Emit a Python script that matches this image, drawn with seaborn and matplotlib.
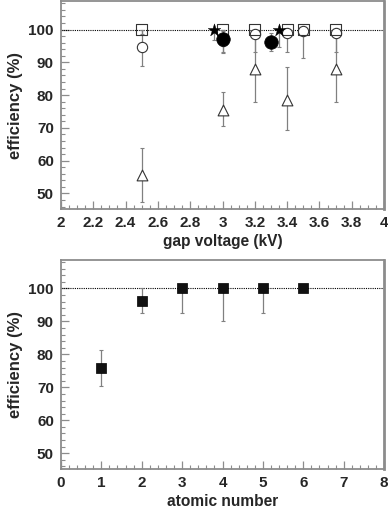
import matplotlib
matplotlib.use("Agg")
import matplotlib.pyplot as plt
import seaborn as sns
import pandas as pd
import numpy as np
from matplotlib.ticker import MultipleLocator

sns.set_theme(style="white")
plt.rcParams['font.family'] = ['Liberation Sans', 'DejaVu Sans']

# ---- top panel data (gap voltage scan) ----
sq_x = [2.5, 3.0, 3.2, 3.4, 3.5, 3.7]
sq_y = [100, 100, 100, 100, 100, 100]
sq_lo = [1.5, 0.5, 0.5, 0.5, 0.5, 0.5]
sq_hi = [0, 0, 0, 0, 0, 0]

oc_x = [2.5, 3.0, 3.2, 3.4, 3.5, 3.7]
oc_y = [94.7, 96.5, 98.5, 98.8, 99.5, 99.0]
oc_lo = [5.9, 3.5, 5.5, 5.8, 8.2, 6.0]
oc_hi = [5.3, 3.5, 1.5, 1.2, 0.5, 1.0]

tr_x = [2.5, 3.0, 3.2, 3.4, 3.7]
tr_y = [55.5, 75.5, 88.0, 78.5, 88.0]
tr_lo = [8.2, 5.0, 10.0, 9.0, 10.0]
tr_hi = [8.3, 5.5, 10.0, 10.0, 10.0]

fc_x = [3.0, 3.3]
fc_y = [97.2, 96.2]
fc_lo = [4.3, 2.8]
fc_hi = [2.8, 2.8]

st_x = [2.95, 3.35]
st_y = [100, 100]
st_lo = [3.3, 5.3]
st_hi = [0, 0]

# ---- bottom panel data (atomic number) ----
z_x = [1, 2, 3, 4, 5, 6]
z_y = [75.8, 96.2, 100, 100, 100, 100]
z_lo = [5.5, 3.5, 7.3, 10.0, 7.3, 0]
z_hi = [5.4, 3.8, 0, 0, 0, 0]

top_xticklabels = ['2', '2.2', '2.4', '2.6', '2.8', '3', '3.2', '3.4', '3.6', '3.8', '4']

fig = plt.figure(figsize=(3.88, 5.14), dpi=100)
ax1 = fig.add_axes([0.157, 0.593, 0.833, 0.405])
ax2 = fig.add_axes([0.157, 0.0875, 0.833, 0.407])

ecol = '#808080'
spcol = '#8c8c8c'

def err(ax, x, y, lo, hi):
    ax.errorbar(x, y, yerr=[lo, hi], fmt='none', ecolor=ecol, elinewidth=0.9,
                capsize=1.2, capthick=0.8, zorder=2)

def style(ax, xlim, xmaj, xmin, xlabel):
    ax.set_xlim(*xlim)
    ax.set_ylim(45.2, 108.7)
    ax.axhline(100, ls=(0, (1, 1)), color='black', lw=0.8, zorder=1)
    ax.xaxis.set_major_locator(MultipleLocator(xmaj))
    ax.xaxis.set_minor_locator(MultipleLocator(xmin))
    ax.yaxis.set_major_locator(MultipleLocator(10))
    ax.yaxis.set_minor_locator(MultipleLocator(2))
    ax.set_yticks([50, 60, 70, 80, 90, 100])
    ax.tick_params(axis='both', which='major', direction='in', length=6,
                   width=0.9, color=spcol, labelsize=11, pad=5,
                   bottom=True, left=True, top=False, right=False)
    ax.tick_params(axis='both', which='minor', direction='in', length=3,
                   width=0.8, color=spcol, bottom=True, left=True,
                   top=False, right=False)
    for lab in ax.get_xticklabels() + ax.get_yticklabels():
        lab.set_fontweight('bold')
    for s in ax.spines.values():
        s.set_color(spcol)
        s.set_linewidth(1.3)
    ax.spines['right'].set_linewidth(2.0)
    ax.set_xlabel(xlabel, fontsize=11.2, fontweight='bold', labelpad=3)
    ax.set_ylabel('efficiency (%)', fontsize=12, fontweight='bold', labelpad=4)
    ax.grid(False)

# top panel
for x, y, lo, hi in [(tr_x, tr_y, tr_lo, tr_hi), (oc_x, oc_y, oc_lo, oc_hi),
                     (sq_x, sq_y, sq_lo, sq_hi), (fc_x, fc_y, fc_lo, fc_hi),
                     (st_x, st_y, st_lo, st_hi)]:
    err(ax1, x, y, lo, hi)

sns.scatterplot(x=tr_x, y=tr_y, ax=ax1, marker='^', s=60, facecolor='white',
                edgecolor='#333333', linewidth=0.8, zorder=3)
sns.scatterplot(x=oc_x, y=oc_y, ax=ax1, marker='o', s=55, facecolor='white',
                edgecolor='#333333', linewidth=0.8, zorder=4)
sns.scatterplot(x=sq_x, y=sq_y, ax=ax1, marker='s', s=60, facecolor='none',
                edgecolor='#333333', linewidth=0.8, zorder=5)
sns.scatterplot(x=fc_x, y=fc_y, ax=ax1, marker='o', s=95, color='black',
                edgecolor='black', linewidth=0.5, zorder=6)
sns.scatterplot(x=st_x, y=st_y, ax=ax1, marker='*', s=90, color='black',
                edgecolor='black', linewidth=0.3, zorder=6)
style(ax1, (2, 4), 0.2, 0.05, 'gap voltage (kV)')
ax1.set_xticks(np.round(np.arange(2, 4.01, 0.2), 1))
ax1.set_xticklabels(top_xticklabels, fontweight='bold')

# bottom panel
err(ax2, z_x, z_y, z_lo, z_hi)
sns.scatterplot(x=z_x, y=z_y, ax=ax2, marker='s', s=55, color='#111111',
                edgecolor='black', linewidth=0.5, zorder=5)
style(ax2, (0, 8), 1, 0.2, 'atomic number')

fig.savefig('out.png', dpi=100)
